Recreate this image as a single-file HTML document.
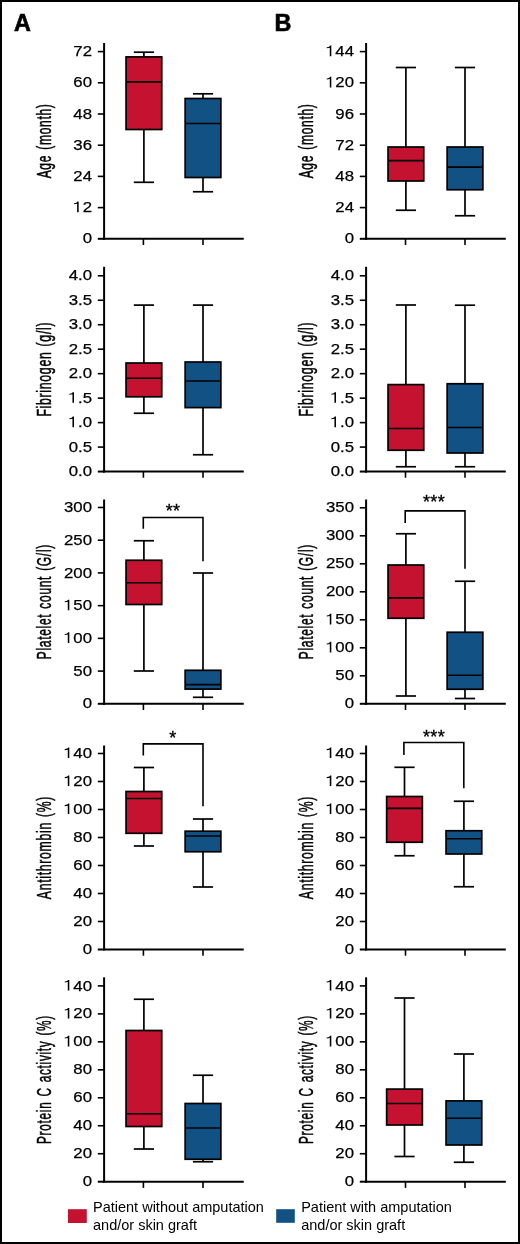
<!DOCTYPE html>
<html><head><meta charset="utf-8"><style>
html,body{margin:0;padding:0;background:#fff;}
body{width:520px;height:1244px;overflow:hidden;}
svg{display:block;font-family:"Liberation Sans",sans-serif;will-change:transform;}
</style></head><body>
<svg width="520" height="1244" viewBox="0 0 520 1244">
<rect x="0" y="0" width="520" height="1244" fill="#fff"/>
<rect x="1" y="1" width="518" height="1242" fill="none" stroke="#000" stroke-width="2"/>
<g stroke="#000" stroke-linecap="butt">
<line x1="104.10" y1="43.00" x2="104.10" y2="239.80" stroke-width="2.0"/>
<line x1="103.10" y1="238.80" x2="243.75" y2="238.80" stroke-width="2.0"/>
<line x1="97.80" y1="238.80" x2="104.10" y2="238.80" stroke-width="2.0"/>
<line x1="97.80" y1="207.60" x2="104.10" y2="207.60" stroke-width="1.6"/>
<line x1="97.80" y1="176.40" x2="104.10" y2="176.40" stroke-width="1.6"/>
<line x1="97.80" y1="145.20" x2="104.10" y2="145.20" stroke-width="1.6"/>
<line x1="97.80" y1="114.00" x2="104.10" y2="114.00" stroke-width="1.6"/>
<line x1="97.80" y1="82.80" x2="104.10" y2="82.80" stroke-width="1.6"/>
<line x1="97.80" y1="51.60" x2="104.10" y2="51.60" stroke-width="1.6"/>
<line x1="143.40" y1="238.80" x2="143.40" y2="245.00" stroke-width="1.6"/>
<line x1="203.00" y1="238.80" x2="203.00" y2="245.00" stroke-width="1.6"/>
</g>
<g font-size="15.4" text-anchor="end" fill="#000" stroke="#000" stroke-width="0.25">
<g transform="translate(92.00,243.40) scale(1.09,1)"><text>0</text></g>
<g transform="translate(92.00,212.20) scale(1.09,1)"><text> 2</text><polygon points="-12.23,-10.60 -12.23,0.00 -13.65,0.00 -13.65,-8.39 -16.44,-7.93 -16.44,-9.01 -14.82,-9.24 -13.82,-9.93 -13.36,-10.60" stroke="none"/></g>
<g transform="translate(92.00,181.00) scale(1.09,1)"><text>24</text></g>
<g transform="translate(92.00,149.80) scale(1.09,1)"><text>36</text></g>
<g transform="translate(92.00,118.60) scale(1.09,1)"><text>48</text></g>
<g transform="translate(92.00,87.40) scale(1.09,1)"><text>60</text></g>
<g transform="translate(92.00,56.20) scale(1.09,1)"><text>72</text></g>
</g>
<text transform="translate(50.90,140.90) rotate(-90) scale(0.6149,1)" text-anchor="middle" font-size="19.6" letter-spacing="1.138" word-spacing="1.626" fill="#000" stroke="#000" stroke-width="0.5">Age (month)</text>
<g stroke="#000">
<line x1="143.90" y1="52.20" x2="143.90" y2="56.90" stroke-width="1.7"/>
<line x1="143.90" y1="129.50" x2="143.90" y2="182.30" stroke-width="1.7"/>
<line x1="133.80" y1="52.20" x2="154.00" y2="52.20" stroke-width="1.7"/>
<line x1="133.80" y1="182.30" x2="154.00" y2="182.30" stroke-width="1.7"/>
<rect x="126.05" y="56.90" width="35.70" height="72.60" fill="#C41230" stroke-width="1.7"/>
<line x1="126.05" y1="81.85" x2="161.75" y2="81.85" stroke-width="1.7"/>
</g>
<g stroke="#000">
<line x1="203.00" y1="93.80" x2="203.00" y2="98.50" stroke-width="1.7"/>
<line x1="203.00" y1="177.50" x2="203.00" y2="191.75" stroke-width="1.7"/>
<line x1="192.90" y1="93.80" x2="213.10" y2="93.80" stroke-width="1.7"/>
<line x1="192.90" y1="191.75" x2="213.10" y2="191.75" stroke-width="1.7"/>
<rect x="185.15" y="98.50" width="35.70" height="79.00" fill="#125184" stroke-width="1.7"/>
<line x1="185.15" y1="123.50" x2="220.85" y2="123.50" stroke-width="1.7"/>
</g>
<g stroke="#000" stroke-linecap="butt">
<line x1="366.10" y1="43.00" x2="366.10" y2="239.80" stroke-width="2.0"/>
<line x1="365.10" y1="238.80" x2="505.80" y2="238.80" stroke-width="2.0"/>
<line x1="359.80" y1="238.80" x2="366.10" y2="238.80" stroke-width="2.0"/>
<line x1="359.80" y1="207.60" x2="366.10" y2="207.60" stroke-width="1.6"/>
<line x1="359.80" y1="176.40" x2="366.10" y2="176.40" stroke-width="1.6"/>
<line x1="359.80" y1="145.20" x2="366.10" y2="145.20" stroke-width="1.6"/>
<line x1="359.80" y1="114.00" x2="366.10" y2="114.00" stroke-width="1.6"/>
<line x1="359.80" y1="82.80" x2="366.10" y2="82.80" stroke-width="1.6"/>
<line x1="359.80" y1="51.60" x2="366.10" y2="51.60" stroke-width="1.6"/>
<line x1="405.50" y1="238.80" x2="405.50" y2="245.00" stroke-width="1.6"/>
<line x1="465.00" y1="238.80" x2="465.00" y2="245.00" stroke-width="1.6"/>
</g>
<g font-size="15.4" text-anchor="end" fill="#000" stroke="#000" stroke-width="0.25">
<g transform="translate(354.00,243.40) scale(1.09,1)"><text>0</text></g>
<g transform="translate(354.00,212.20) scale(1.09,1)"><text>24</text></g>
<g transform="translate(354.00,181.00) scale(1.09,1)"><text>48</text></g>
<g transform="translate(354.00,149.80) scale(1.09,1)"><text>72</text></g>
<g transform="translate(354.00,118.60) scale(1.09,1)"><text>96</text></g>
<g transform="translate(354.00,87.40) scale(1.09,1)"><text> 20</text><polygon points="-20.80,-10.60 -20.80,0.00 -22.22,0.00 -22.22,-8.39 -25.00,-7.93 -25.00,-9.01 -23.39,-9.24 -22.39,-9.93 -21.92,-10.60" stroke="none"/></g>
<g transform="translate(354.00,56.20) scale(1.09,1)"><text> 44</text><polygon points="-20.80,-10.60 -20.80,0.00 -22.22,0.00 -22.22,-8.39 -25.00,-7.93 -25.00,-9.01 -23.39,-9.24 -22.39,-9.93 -21.92,-10.60" stroke="none"/></g>
</g>
<text transform="translate(313.10,140.90) rotate(-90) scale(0.6149,1)" text-anchor="middle" font-size="19.6" letter-spacing="1.138" word-spacing="1.626" fill="#000" stroke="#000" stroke-width="0.5">Age (month)</text>
<g stroke="#000">
<line x1="405.90" y1="67.50" x2="405.90" y2="147.00" stroke-width="1.7"/>
<line x1="405.90" y1="181.00" x2="405.90" y2="210.25" stroke-width="1.7"/>
<line x1="395.80" y1="67.50" x2="416.00" y2="67.50" stroke-width="1.7"/>
<line x1="395.80" y1="210.25" x2="416.00" y2="210.25" stroke-width="1.7"/>
<rect x="388.05" y="147.00" width="35.70" height="34.00" fill="#C41230" stroke-width="1.7"/>
<line x1="388.05" y1="160.60" x2="423.75" y2="160.60" stroke-width="1.7"/>
</g>
<g stroke="#000">
<line x1="465.00" y1="67.50" x2="465.00" y2="147.00" stroke-width="1.7"/>
<line x1="465.00" y1="189.75" x2="465.00" y2="215.75" stroke-width="1.7"/>
<line x1="454.90" y1="67.50" x2="475.10" y2="67.50" stroke-width="1.7"/>
<line x1="454.90" y1="215.75" x2="475.10" y2="215.75" stroke-width="1.7"/>
<rect x="447.15" y="147.00" width="35.70" height="42.75" fill="#125184" stroke-width="1.7"/>
<line x1="447.15" y1="167.20" x2="482.85" y2="167.20" stroke-width="1.7"/>
</g>
<g stroke="#000" stroke-linecap="butt">
<line x1="104.10" y1="266.80" x2="104.10" y2="472.55" stroke-width="2.0"/>
<line x1="103.10" y1="471.55" x2="243.75" y2="471.55" stroke-width="2.0"/>
<line x1="97.80" y1="471.55" x2="104.10" y2="471.55" stroke-width="2.0"/>
<line x1="97.80" y1="447.08" x2="104.10" y2="447.08" stroke-width="1.6"/>
<line x1="97.80" y1="422.61" x2="104.10" y2="422.61" stroke-width="1.6"/>
<line x1="97.80" y1="398.14" x2="104.10" y2="398.14" stroke-width="1.6"/>
<line x1="97.80" y1="373.67" x2="104.10" y2="373.67" stroke-width="1.6"/>
<line x1="97.80" y1="349.20" x2="104.10" y2="349.20" stroke-width="1.6"/>
<line x1="97.80" y1="324.73" x2="104.10" y2="324.73" stroke-width="1.6"/>
<line x1="97.80" y1="300.26" x2="104.10" y2="300.26" stroke-width="1.6"/>
<line x1="97.80" y1="275.79" x2="104.10" y2="275.79" stroke-width="1.6"/>
<line x1="143.40" y1="471.55" x2="143.40" y2="477.75" stroke-width="1.6"/>
<line x1="203.00" y1="471.55" x2="203.00" y2="477.75" stroke-width="1.6"/>
</g>
<g font-size="15.4" text-anchor="end" fill="#000" stroke="#000" stroke-width="0.25">
<g transform="translate(92.00,476.15) scale(1.09,1)"><text>0.0</text></g>
<g transform="translate(92.00,451.68) scale(1.09,1)"><text>0.5</text></g>
<g transform="translate(92.00,427.21) scale(1.09,1)"><text> .0</text><polygon points="-16.51,-10.60 -16.51,0.00 -17.93,0.00 -17.93,-8.39 -20.72,-7.93 -20.72,-9.01 -19.10,-9.24 -18.10,-9.93 -17.64,-10.60" stroke="none"/></g>
<g transform="translate(92.00,402.74) scale(1.09,1)"><text> .5</text><polygon points="-16.51,-10.60 -16.51,0.00 -17.93,0.00 -17.93,-8.39 -20.72,-7.93 -20.72,-9.01 -19.10,-9.24 -18.10,-9.93 -17.64,-10.60" stroke="none"/></g>
<g transform="translate(92.00,378.27) scale(1.09,1)"><text>2.0</text></g>
<g transform="translate(92.00,353.80) scale(1.09,1)"><text>2.5</text></g>
<g transform="translate(92.00,329.33) scale(1.09,1)"><text>3.0</text></g>
<g transform="translate(92.00,304.86) scale(1.09,1)"><text>3.5</text></g>
<g transform="translate(92.00,280.39) scale(1.09,1)"><text>4.0</text></g>
</g>
<text transform="translate(50.90,369.18) rotate(-90) scale(0.6272,1)" text-anchor="middle" font-size="19.6" letter-spacing="1.116" word-spacing="1.594" fill="#000" stroke="#000" stroke-width="0.5">Fibrinogen (g/l)</text>
<g stroke="#000">
<line x1="143.90" y1="305.10" x2="143.90" y2="363.00" stroke-width="1.7"/>
<line x1="143.90" y1="396.80" x2="143.90" y2="413.25" stroke-width="1.7"/>
<line x1="133.80" y1="305.10" x2="154.00" y2="305.10" stroke-width="1.7"/>
<line x1="133.80" y1="413.25" x2="154.00" y2="413.25" stroke-width="1.7"/>
<rect x="126.05" y="363.00" width="35.70" height="33.80" fill="#C41230" stroke-width="1.7"/>
<line x1="126.05" y1="378.25" x2="161.75" y2="378.25" stroke-width="1.7"/>
</g>
<g stroke="#000">
<line x1="203.00" y1="305.10" x2="203.00" y2="362.00" stroke-width="1.7"/>
<line x1="203.00" y1="407.60" x2="203.00" y2="454.75" stroke-width="1.7"/>
<line x1="192.90" y1="305.10" x2="213.10" y2="305.10" stroke-width="1.7"/>
<line x1="192.90" y1="454.75" x2="213.10" y2="454.75" stroke-width="1.7"/>
<rect x="185.15" y="362.00" width="35.70" height="45.60" fill="#125184" stroke-width="1.7"/>
<line x1="185.15" y1="381.00" x2="220.85" y2="381.00" stroke-width="1.7"/>
</g>
<g stroke="#000" stroke-linecap="butt">
<line x1="366.10" y1="266.80" x2="366.10" y2="472.55" stroke-width="2.0"/>
<line x1="365.10" y1="471.55" x2="505.80" y2="471.55" stroke-width="2.0"/>
<line x1="359.80" y1="471.55" x2="366.10" y2="471.55" stroke-width="2.0"/>
<line x1="359.80" y1="447.08" x2="366.10" y2="447.08" stroke-width="1.6"/>
<line x1="359.80" y1="422.61" x2="366.10" y2="422.61" stroke-width="1.6"/>
<line x1="359.80" y1="398.14" x2="366.10" y2="398.14" stroke-width="1.6"/>
<line x1="359.80" y1="373.67" x2="366.10" y2="373.67" stroke-width="1.6"/>
<line x1="359.80" y1="349.20" x2="366.10" y2="349.20" stroke-width="1.6"/>
<line x1="359.80" y1="324.73" x2="366.10" y2="324.73" stroke-width="1.6"/>
<line x1="359.80" y1="300.26" x2="366.10" y2="300.26" stroke-width="1.6"/>
<line x1="359.80" y1="275.79" x2="366.10" y2="275.79" stroke-width="1.6"/>
<line x1="405.50" y1="471.55" x2="405.50" y2="477.75" stroke-width="1.6"/>
<line x1="465.00" y1="471.55" x2="465.00" y2="477.75" stroke-width="1.6"/>
</g>
<g font-size="15.4" text-anchor="end" fill="#000" stroke="#000" stroke-width="0.25">
<g transform="translate(354.00,476.15) scale(1.09,1)"><text>0.0</text></g>
<g transform="translate(354.00,451.68) scale(1.09,1)"><text>0.5</text></g>
<g transform="translate(354.00,427.21) scale(1.09,1)"><text> .0</text><polygon points="-16.51,-10.60 -16.51,0.00 -17.93,0.00 -17.93,-8.39 -20.72,-7.93 -20.72,-9.01 -19.10,-9.24 -18.10,-9.93 -17.64,-10.60" stroke="none"/></g>
<g transform="translate(354.00,402.74) scale(1.09,1)"><text> .5</text><polygon points="-16.51,-10.60 -16.51,0.00 -17.93,0.00 -17.93,-8.39 -20.72,-7.93 -20.72,-9.01 -19.10,-9.24 -18.10,-9.93 -17.64,-10.60" stroke="none"/></g>
<g transform="translate(354.00,378.27) scale(1.09,1)"><text>2.0</text></g>
<g transform="translate(354.00,353.80) scale(1.09,1)"><text>2.5</text></g>
<g transform="translate(354.00,329.33) scale(1.09,1)"><text>3.0</text></g>
<g transform="translate(354.00,304.86) scale(1.09,1)"><text>3.5</text></g>
<g transform="translate(354.00,280.39) scale(1.09,1)"><text>4.0</text></g>
</g>
<text transform="translate(313.10,369.18) rotate(-90) scale(0.6272,1)" text-anchor="middle" font-size="19.6" letter-spacing="1.116" word-spacing="1.594" fill="#000" stroke="#000" stroke-width="0.5">Fibrinogen (g/l)</text>
<g stroke="#000">
<line x1="405.90" y1="305.00" x2="405.90" y2="384.60" stroke-width="1.7"/>
<line x1="405.90" y1="450.25" x2="405.90" y2="466.75" stroke-width="1.7"/>
<line x1="395.80" y1="305.00" x2="416.00" y2="305.00" stroke-width="1.7"/>
<line x1="395.80" y1="466.75" x2="416.00" y2="466.75" stroke-width="1.7"/>
<rect x="388.05" y="384.60" width="35.70" height="65.65" fill="#C41230" stroke-width="1.7"/>
<line x1="388.05" y1="428.50" x2="423.75" y2="428.50" stroke-width="1.7"/>
</g>
<g stroke="#000">
<line x1="465.00" y1="305.20" x2="465.00" y2="383.75" stroke-width="1.7"/>
<line x1="465.00" y1="453.00" x2="465.00" y2="466.75" stroke-width="1.7"/>
<line x1="454.90" y1="305.20" x2="475.10" y2="305.20" stroke-width="1.7"/>
<line x1="454.90" y1="466.75" x2="475.10" y2="466.75" stroke-width="1.7"/>
<rect x="447.15" y="383.75" width="35.70" height="69.25" fill="#125184" stroke-width="1.7"/>
<line x1="447.15" y1="427.50" x2="482.85" y2="427.50" stroke-width="1.7"/>
</g>
<g stroke="#000" stroke-linecap="butt">
<line x1="104.10" y1="499.50" x2="104.10" y2="704.80" stroke-width="2.0"/>
<line x1="103.10" y1="703.80" x2="243.75" y2="703.80" stroke-width="2.0"/>
<line x1="97.80" y1="703.80" x2="104.10" y2="703.80" stroke-width="2.0"/>
<line x1="97.80" y1="671.08" x2="104.10" y2="671.08" stroke-width="1.6"/>
<line x1="97.80" y1="638.36" x2="104.10" y2="638.36" stroke-width="1.6"/>
<line x1="97.80" y1="605.64" x2="104.10" y2="605.64" stroke-width="1.6"/>
<line x1="97.80" y1="572.92" x2="104.10" y2="572.92" stroke-width="1.6"/>
<line x1="97.80" y1="540.20" x2="104.10" y2="540.20" stroke-width="1.6"/>
<line x1="97.80" y1="507.48" x2="104.10" y2="507.48" stroke-width="1.6"/>
<line x1="143.40" y1="703.80" x2="143.40" y2="710.00" stroke-width="1.6"/>
<line x1="203.00" y1="703.80" x2="203.00" y2="710.00" stroke-width="1.6"/>
</g>
<g font-size="15.4" text-anchor="end" fill="#000" stroke="#000" stroke-width="0.25">
<g transform="translate(92.00,708.40) scale(1.09,1)"><text>0</text></g>
<g transform="translate(92.00,675.68) scale(1.09,1)"><text>50</text></g>
<g transform="translate(92.00,642.96) scale(1.09,1)"><text> 00</text><polygon points="-20.80,-10.60 -20.80,0.00 -22.22,0.00 -22.22,-8.39 -25.00,-7.93 -25.00,-9.01 -23.39,-9.24 -22.39,-9.93 -21.92,-10.60" stroke="none"/></g>
<g transform="translate(92.00,610.24) scale(1.09,1)"><text> 50</text><polygon points="-20.80,-10.60 -20.80,0.00 -22.22,0.00 -22.22,-8.39 -25.00,-7.93 -25.00,-9.01 -23.39,-9.24 -22.39,-9.93 -21.92,-10.60" stroke="none"/></g>
<g transform="translate(92.00,577.52) scale(1.09,1)"><text>200</text></g>
<g transform="translate(92.00,544.80) scale(1.09,1)"><text>250</text></g>
<g transform="translate(92.00,512.08) scale(1.09,1)"><text>300</text></g>
</g>
<text transform="translate(50.90,601.65) rotate(-90) scale(0.6117,1)" text-anchor="middle" font-size="19.6" letter-spacing="1.144" word-spacing="1.635" fill="#000" stroke="#000" stroke-width="0.5">Platelet count (G/l)</text>
<g stroke="#000">
<line x1="143.90" y1="540.75" x2="143.90" y2="560.25" stroke-width="1.7"/>
<line x1="143.90" y1="604.50" x2="143.90" y2="671.00" stroke-width="1.7"/>
<line x1="133.80" y1="540.75" x2="154.00" y2="540.75" stroke-width="1.7"/>
<line x1="133.80" y1="671.00" x2="154.00" y2="671.00" stroke-width="1.7"/>
<rect x="126.05" y="560.25" width="35.70" height="44.25" fill="#C41230" stroke-width="1.7"/>
<line x1="126.05" y1="582.75" x2="161.75" y2="582.75" stroke-width="1.7"/>
</g>
<g stroke="#000">
<line x1="203.00" y1="573.00" x2="203.00" y2="670.30" stroke-width="1.7"/>
<line x1="203.00" y1="689.10" x2="203.00" y2="697.30" stroke-width="1.7"/>
<line x1="192.90" y1="573.00" x2="213.10" y2="573.00" stroke-width="1.7"/>
<line x1="192.90" y1="697.30" x2="213.10" y2="697.30" stroke-width="1.7"/>
<rect x="185.15" y="670.30" width="35.70" height="18.80" fill="#125184" stroke-width="1.7"/>
<line x1="185.15" y1="684.60" x2="220.85" y2="684.60" stroke-width="1.7"/>
</g>
<path d="M143.30,528.75 V517.50 H203.00 V561.25" fill="none" stroke="#000" stroke-width="1.6"/>
<text x="173.10" y="516.90" text-anchor="middle" font-size="18" letter-spacing="0.4" stroke="#000" stroke-width="0.35">**</text>
<g stroke="#000" stroke-linecap="butt">
<line x1="366.10" y1="499.50" x2="366.10" y2="704.80" stroke-width="2.0"/>
<line x1="365.10" y1="703.80" x2="505.80" y2="703.80" stroke-width="2.0"/>
<line x1="359.80" y1="703.80" x2="366.10" y2="703.80" stroke-width="2.0"/>
<line x1="359.80" y1="675.80" x2="366.10" y2="675.80" stroke-width="1.6"/>
<line x1="359.80" y1="647.80" x2="366.10" y2="647.80" stroke-width="1.6"/>
<line x1="359.80" y1="619.80" x2="366.10" y2="619.80" stroke-width="1.6"/>
<line x1="359.80" y1="591.80" x2="366.10" y2="591.80" stroke-width="1.6"/>
<line x1="359.80" y1="563.80" x2="366.10" y2="563.80" stroke-width="1.6"/>
<line x1="359.80" y1="535.80" x2="366.10" y2="535.80" stroke-width="1.6"/>
<line x1="359.80" y1="507.80" x2="366.10" y2="507.80" stroke-width="1.6"/>
<line x1="405.50" y1="703.80" x2="405.50" y2="710.00" stroke-width="1.6"/>
<line x1="465.00" y1="703.80" x2="465.00" y2="710.00" stroke-width="1.6"/>
</g>
<g font-size="15.4" text-anchor="end" fill="#000" stroke="#000" stroke-width="0.25">
<g transform="translate(354.00,708.40) scale(1.09,1)"><text>0</text></g>
<g transform="translate(354.00,680.40) scale(1.09,1)"><text>50</text></g>
<g transform="translate(354.00,652.40) scale(1.09,1)"><text> 00</text><polygon points="-20.80,-10.60 -20.80,0.00 -22.22,0.00 -22.22,-8.39 -25.00,-7.93 -25.00,-9.01 -23.39,-9.24 -22.39,-9.93 -21.92,-10.60" stroke="none"/></g>
<g transform="translate(354.00,624.40) scale(1.09,1)"><text> 50</text><polygon points="-20.80,-10.60 -20.80,0.00 -22.22,0.00 -22.22,-8.39 -25.00,-7.93 -25.00,-9.01 -23.39,-9.24 -22.39,-9.93 -21.92,-10.60" stroke="none"/></g>
<g transform="translate(354.00,596.40) scale(1.09,1)"><text>200</text></g>
<g transform="translate(354.00,568.40) scale(1.09,1)"><text>250</text></g>
<g transform="translate(354.00,540.40) scale(1.09,1)"><text>300</text></g>
<g transform="translate(354.00,512.40) scale(1.09,1)"><text>350</text></g>
</g>
<text transform="translate(313.10,601.65) rotate(-90) scale(0.6117,1)" text-anchor="middle" font-size="19.6" letter-spacing="1.144" word-spacing="1.635" fill="#000" stroke="#000" stroke-width="0.5">Platelet count (G/l)</text>
<g stroke="#000">
<line x1="405.90" y1="533.75" x2="405.90" y2="565.00" stroke-width="1.7"/>
<line x1="405.90" y1="618.25" x2="405.90" y2="696.00" stroke-width="1.7"/>
<line x1="395.80" y1="533.75" x2="416.00" y2="533.75" stroke-width="1.7"/>
<line x1="395.80" y1="696.00" x2="416.00" y2="696.00" stroke-width="1.7"/>
<rect x="388.05" y="565.00" width="35.70" height="53.25" fill="#C41230" stroke-width="1.7"/>
<line x1="388.05" y1="597.90" x2="423.75" y2="597.90" stroke-width="1.7"/>
</g>
<g stroke="#000">
<line x1="465.00" y1="581.25" x2="465.00" y2="632.25" stroke-width="1.7"/>
<line x1="465.00" y1="689.25" x2="465.00" y2="698.50" stroke-width="1.7"/>
<line x1="454.90" y1="581.25" x2="475.10" y2="581.25" stroke-width="1.7"/>
<line x1="454.90" y1="698.50" x2="475.10" y2="698.50" stroke-width="1.7"/>
<rect x="447.15" y="632.25" width="35.70" height="57.00" fill="#125184" stroke-width="1.7"/>
<line x1="447.15" y1="675.25" x2="482.85" y2="675.25" stroke-width="1.7"/>
</g>
<path d="M405.20,523.00 V510.90 H465.00 V568.75" fill="none" stroke="#000" stroke-width="1.6"/>
<text x="434.00" y="507.70" text-anchor="middle" font-size="18" letter-spacing="0.4" stroke="#000" stroke-width="0.35">***</text>
<g stroke="#000" stroke-linecap="butt">
<line x1="104.10" y1="745.50" x2="104.10" y2="950.50" stroke-width="2.0"/>
<line x1="103.10" y1="949.50" x2="243.75" y2="949.50" stroke-width="2.0"/>
<line x1="97.80" y1="949.50" x2="104.10" y2="949.50" stroke-width="2.0"/>
<line x1="97.80" y1="921.50" x2="104.10" y2="921.50" stroke-width="1.6"/>
<line x1="97.80" y1="893.50" x2="104.10" y2="893.50" stroke-width="1.6"/>
<line x1="97.80" y1="865.50" x2="104.10" y2="865.50" stroke-width="1.6"/>
<line x1="97.80" y1="837.50" x2="104.10" y2="837.50" stroke-width="1.6"/>
<line x1="97.80" y1="809.50" x2="104.10" y2="809.50" stroke-width="1.6"/>
<line x1="97.80" y1="781.50" x2="104.10" y2="781.50" stroke-width="1.6"/>
<line x1="97.80" y1="753.50" x2="104.10" y2="753.50" stroke-width="1.6"/>
<line x1="143.40" y1="949.50" x2="143.40" y2="955.70" stroke-width="1.6"/>
<line x1="203.00" y1="949.50" x2="203.00" y2="955.70" stroke-width="1.6"/>
</g>
<g font-size="15.4" text-anchor="end" fill="#000" stroke="#000" stroke-width="0.25">
<g transform="translate(92.00,954.10) scale(1.09,1)"><text>0</text></g>
<g transform="translate(92.00,926.10) scale(1.09,1)"><text>20</text></g>
<g transform="translate(92.00,898.10) scale(1.09,1)"><text>40</text></g>
<g transform="translate(92.00,870.10) scale(1.09,1)"><text>60</text></g>
<g transform="translate(92.00,842.10) scale(1.09,1)"><text>80</text></g>
<g transform="translate(92.00,814.10) scale(1.09,1)"><text> 00</text><polygon points="-20.80,-10.60 -20.80,0.00 -22.22,0.00 -22.22,-8.39 -25.00,-7.93 -25.00,-9.01 -23.39,-9.24 -22.39,-9.93 -21.92,-10.60" stroke="none"/></g>
<g transform="translate(92.00,786.10) scale(1.09,1)"><text> 20</text><polygon points="-20.80,-10.60 -20.80,0.00 -22.22,0.00 -22.22,-8.39 -25.00,-7.93 -25.00,-9.01 -23.39,-9.24 -22.39,-9.93 -21.92,-10.60" stroke="none"/></g>
<g transform="translate(92.00,758.10) scale(1.09,1)"><text> 40</text><polygon points="-20.80,-10.60 -20.80,0.00 -22.22,0.00 -22.22,-8.39 -25.00,-7.93 -25.00,-9.01 -23.39,-9.24 -22.39,-9.93 -21.92,-10.60" stroke="none"/></g>
</g>
<text transform="translate(50.90,847.50) rotate(-90) scale(0.6243,1)" text-anchor="middle" font-size="19.6" letter-spacing="1.121" word-spacing="1.602" fill="#000" stroke="#000" stroke-width="0.5">Antithrombin (%)</text>
<g stroke="#000">
<line x1="143.90" y1="767.50" x2="143.90" y2="791.50" stroke-width="1.7"/>
<line x1="143.90" y1="833.30" x2="143.90" y2="846.00" stroke-width="1.7"/>
<line x1="133.80" y1="767.50" x2="154.00" y2="767.50" stroke-width="1.7"/>
<line x1="133.80" y1="846.00" x2="154.00" y2="846.00" stroke-width="1.7"/>
<rect x="126.05" y="791.50" width="35.70" height="41.80" fill="#C41230" stroke-width="1.7"/>
<line x1="126.05" y1="798.50" x2="161.75" y2="798.50" stroke-width="1.7"/>
</g>
<g stroke="#000">
<line x1="203.00" y1="819.00" x2="203.00" y2="831.20" stroke-width="1.7"/>
<line x1="203.00" y1="851.75" x2="203.00" y2="887.00" stroke-width="1.7"/>
<line x1="192.90" y1="819.00" x2="213.10" y2="819.00" stroke-width="1.7"/>
<line x1="192.90" y1="887.00" x2="213.10" y2="887.00" stroke-width="1.7"/>
<rect x="185.15" y="831.20" width="35.70" height="20.55" fill="#125184" stroke-width="1.7"/>
<line x1="185.15" y1="836.00" x2="220.85" y2="836.00" stroke-width="1.7"/>
</g>
<path d="M143.30,755.50 V743.90 H203.00 V806.25" fill="none" stroke="#000" stroke-width="1.6"/>
<text x="173.00" y="743.60" text-anchor="middle" font-size="18" letter-spacing="0.4" stroke="#000" stroke-width="0.35">*</text>
<g stroke="#000" stroke-linecap="butt">
<line x1="366.10" y1="745.50" x2="366.10" y2="950.50" stroke-width="2.0"/>
<line x1="365.10" y1="949.50" x2="505.80" y2="949.50" stroke-width="2.0"/>
<line x1="359.80" y1="949.50" x2="366.10" y2="949.50" stroke-width="2.0"/>
<line x1="359.80" y1="921.50" x2="366.10" y2="921.50" stroke-width="1.6"/>
<line x1="359.80" y1="893.50" x2="366.10" y2="893.50" stroke-width="1.6"/>
<line x1="359.80" y1="865.50" x2="366.10" y2="865.50" stroke-width="1.6"/>
<line x1="359.80" y1="837.50" x2="366.10" y2="837.50" stroke-width="1.6"/>
<line x1="359.80" y1="809.50" x2="366.10" y2="809.50" stroke-width="1.6"/>
<line x1="359.80" y1="781.50" x2="366.10" y2="781.50" stroke-width="1.6"/>
<line x1="359.80" y1="753.50" x2="366.10" y2="753.50" stroke-width="1.6"/>
<line x1="405.50" y1="949.50" x2="405.50" y2="955.70" stroke-width="1.6"/>
<line x1="465.00" y1="949.50" x2="465.00" y2="955.70" stroke-width="1.6"/>
</g>
<g font-size="15.4" text-anchor="end" fill="#000" stroke="#000" stroke-width="0.25">
<g transform="translate(354.00,954.10) scale(1.09,1)"><text>0</text></g>
<g transform="translate(354.00,926.10) scale(1.09,1)"><text>20</text></g>
<g transform="translate(354.00,898.10) scale(1.09,1)"><text>40</text></g>
<g transform="translate(354.00,870.10) scale(1.09,1)"><text>60</text></g>
<g transform="translate(354.00,842.10) scale(1.09,1)"><text>80</text></g>
<g transform="translate(354.00,814.10) scale(1.09,1)"><text> 00</text><polygon points="-20.80,-10.60 -20.80,0.00 -22.22,0.00 -22.22,-8.39 -25.00,-7.93 -25.00,-9.01 -23.39,-9.24 -22.39,-9.93 -21.92,-10.60" stroke="none"/></g>
<g transform="translate(354.00,786.10) scale(1.09,1)"><text> 20</text><polygon points="-20.80,-10.60 -20.80,0.00 -22.22,0.00 -22.22,-8.39 -25.00,-7.93 -25.00,-9.01 -23.39,-9.24 -22.39,-9.93 -21.92,-10.60" stroke="none"/></g>
<g transform="translate(354.00,758.10) scale(1.09,1)"><text> 40</text><polygon points="-20.80,-10.60 -20.80,0.00 -22.22,0.00 -22.22,-8.39 -25.00,-7.93 -25.00,-9.01 -23.39,-9.24 -22.39,-9.93 -21.92,-10.60" stroke="none"/></g>
</g>
<text transform="translate(313.10,847.50) rotate(-90) scale(0.6243,1)" text-anchor="middle" font-size="19.6" letter-spacing="1.121" word-spacing="1.602" fill="#000" stroke="#000" stroke-width="0.5">Antithrombin (%)</text>
<g stroke="#000">
<line x1="404.50" y1="767.30" x2="404.50" y2="796.50" stroke-width="1.7"/>
<line x1="404.50" y1="842.25" x2="404.50" y2="855.75" stroke-width="1.7"/>
<line x1="394.40" y1="767.30" x2="414.60" y2="767.30" stroke-width="1.7"/>
<line x1="394.40" y1="855.75" x2="414.60" y2="855.75" stroke-width="1.7"/>
<rect x="386.65" y="796.50" width="35.70" height="45.75" fill="#C41230" stroke-width="1.7"/>
<line x1="386.65" y1="808.30" x2="422.35" y2="808.30" stroke-width="1.7"/>
</g>
<g stroke="#000">
<line x1="463.90" y1="801.25" x2="463.90" y2="830.75" stroke-width="1.7"/>
<line x1="463.90" y1="854.00" x2="463.90" y2="886.75" stroke-width="1.7"/>
<line x1="453.80" y1="801.25" x2="474.00" y2="801.25" stroke-width="1.7"/>
<line x1="453.80" y1="886.75" x2="474.00" y2="886.75" stroke-width="1.7"/>
<rect x="446.05" y="830.75" width="35.70" height="23.25" fill="#125184" stroke-width="1.7"/>
<line x1="446.05" y1="838.75" x2="481.75" y2="838.75" stroke-width="1.7"/>
</g>
<path d="M403.90,755.00 V742.50 H463.80 V788.25" fill="none" stroke="#000" stroke-width="1.6"/>
<text x="434.00" y="742.90" text-anchor="middle" font-size="18" letter-spacing="0.4" stroke="#000" stroke-width="0.35">***</text>
<g stroke="#000" stroke-linecap="butt">
<line x1="104.10" y1="977.30" x2="104.10" y2="1182.70" stroke-width="2.0"/>
<line x1="103.10" y1="1181.70" x2="243.75" y2="1181.70" stroke-width="2.0"/>
<line x1="97.80" y1="1181.70" x2="104.10" y2="1181.70" stroke-width="2.0"/>
<line x1="97.80" y1="1153.73" x2="104.10" y2="1153.73" stroke-width="1.6"/>
<line x1="97.80" y1="1125.76" x2="104.10" y2="1125.76" stroke-width="1.6"/>
<line x1="97.80" y1="1097.79" x2="104.10" y2="1097.79" stroke-width="1.6"/>
<line x1="97.80" y1="1069.82" x2="104.10" y2="1069.82" stroke-width="1.6"/>
<line x1="97.80" y1="1041.85" x2="104.10" y2="1041.85" stroke-width="1.6"/>
<line x1="97.80" y1="1013.88" x2="104.10" y2="1013.88" stroke-width="1.6"/>
<line x1="97.80" y1="985.91" x2="104.10" y2="985.91" stroke-width="1.6"/>
<line x1="143.40" y1="1181.70" x2="143.40" y2="1187.90" stroke-width="1.6"/>
<line x1="203.00" y1="1181.70" x2="203.00" y2="1187.90" stroke-width="1.6"/>
</g>
<g font-size="15.4" text-anchor="end" fill="#000" stroke="#000" stroke-width="0.25">
<g transform="translate(92.00,1186.30) scale(1.09,1)"><text>0</text></g>
<g transform="translate(92.00,1158.33) scale(1.09,1)"><text>20</text></g>
<g transform="translate(92.00,1130.36) scale(1.09,1)"><text>40</text></g>
<g transform="translate(92.00,1102.39) scale(1.09,1)"><text>60</text></g>
<g transform="translate(92.00,1074.42) scale(1.09,1)"><text>80</text></g>
<g transform="translate(92.00,1046.45) scale(1.09,1)"><text> 00</text><polygon points="-20.80,-10.60 -20.80,0.00 -22.22,0.00 -22.22,-8.39 -25.00,-7.93 -25.00,-9.01 -23.39,-9.24 -22.39,-9.93 -21.92,-10.60" stroke="none"/></g>
<g transform="translate(92.00,1018.48) scale(1.09,1)"><text> 20</text><polygon points="-20.80,-10.60 -20.80,0.00 -22.22,0.00 -22.22,-8.39 -25.00,-7.93 -25.00,-9.01 -23.39,-9.24 -22.39,-9.93 -21.92,-10.60" stroke="none"/></g>
<g transform="translate(92.00,990.51) scale(1.09,1)"><text> 40</text><polygon points="-20.80,-10.60 -20.80,0.00 -22.22,0.00 -22.22,-8.39 -25.00,-7.93 -25.00,-9.01 -23.39,-9.24 -22.39,-9.93 -21.92,-10.60" stroke="none"/></g>
</g>
<text transform="translate(50.90,1079.50) rotate(-90) scale(0.6048,1)" text-anchor="middle" font-size="19.6" letter-spacing="1.157" word-spacing="1.653" fill="#000" stroke="#000" stroke-width="0.5">Protein C activity (%)</text>
<g stroke="#000">
<line x1="143.90" y1="999.25" x2="143.90" y2="1030.50" stroke-width="1.7"/>
<line x1="143.90" y1="1126.50" x2="143.90" y2="1149.00" stroke-width="1.7"/>
<line x1="133.80" y1="999.25" x2="154.00" y2="999.25" stroke-width="1.7"/>
<line x1="133.80" y1="1149.00" x2="154.00" y2="1149.00" stroke-width="1.7"/>
<rect x="126.05" y="1030.50" width="35.70" height="96.00" fill="#C41230" stroke-width="1.7"/>
<line x1="126.05" y1="1113.75" x2="161.75" y2="1113.75" stroke-width="1.7"/>
</g>
<g stroke="#000">
<line x1="203.00" y1="1075.25" x2="203.00" y2="1103.50" stroke-width="1.7"/>
<line x1="203.00" y1="1159.25" x2="203.00" y2="1161.75" stroke-width="1.7"/>
<line x1="192.90" y1="1075.25" x2="213.10" y2="1075.25" stroke-width="1.7"/>
<line x1="192.90" y1="1161.75" x2="213.10" y2="1161.75" stroke-width="1.7"/>
<rect x="185.15" y="1103.50" width="35.70" height="55.75" fill="#125184" stroke-width="1.7"/>
<line x1="185.15" y1="1128.00" x2="220.85" y2="1128.00" stroke-width="1.7"/>
</g>
<g stroke="#000" stroke-linecap="butt">
<line x1="366.10" y1="977.30" x2="366.10" y2="1182.70" stroke-width="2.0"/>
<line x1="365.10" y1="1181.70" x2="505.80" y2="1181.70" stroke-width="2.0"/>
<line x1="359.80" y1="1181.70" x2="366.10" y2="1181.70" stroke-width="2.0"/>
<line x1="359.80" y1="1153.73" x2="366.10" y2="1153.73" stroke-width="1.6"/>
<line x1="359.80" y1="1125.76" x2="366.10" y2="1125.76" stroke-width="1.6"/>
<line x1="359.80" y1="1097.79" x2="366.10" y2="1097.79" stroke-width="1.6"/>
<line x1="359.80" y1="1069.82" x2="366.10" y2="1069.82" stroke-width="1.6"/>
<line x1="359.80" y1="1041.85" x2="366.10" y2="1041.85" stroke-width="1.6"/>
<line x1="359.80" y1="1013.88" x2="366.10" y2="1013.88" stroke-width="1.6"/>
<line x1="359.80" y1="985.91" x2="366.10" y2="985.91" stroke-width="1.6"/>
<line x1="405.50" y1="1181.70" x2="405.50" y2="1187.90" stroke-width="1.6"/>
<line x1="465.00" y1="1181.70" x2="465.00" y2="1187.90" stroke-width="1.6"/>
</g>
<g font-size="15.4" text-anchor="end" fill="#000" stroke="#000" stroke-width="0.25">
<g transform="translate(354.00,1186.30) scale(1.09,1)"><text>0</text></g>
<g transform="translate(354.00,1158.33) scale(1.09,1)"><text>20</text></g>
<g transform="translate(354.00,1130.36) scale(1.09,1)"><text>40</text></g>
<g transform="translate(354.00,1102.39) scale(1.09,1)"><text>60</text></g>
<g transform="translate(354.00,1074.42) scale(1.09,1)"><text>80</text></g>
<g transform="translate(354.00,1046.45) scale(1.09,1)"><text> 00</text><polygon points="-20.80,-10.60 -20.80,0.00 -22.22,0.00 -22.22,-8.39 -25.00,-7.93 -25.00,-9.01 -23.39,-9.24 -22.39,-9.93 -21.92,-10.60" stroke="none"/></g>
<g transform="translate(354.00,1018.48) scale(1.09,1)"><text> 20</text><polygon points="-20.80,-10.60 -20.80,0.00 -22.22,0.00 -22.22,-8.39 -25.00,-7.93 -25.00,-9.01 -23.39,-9.24 -22.39,-9.93 -21.92,-10.60" stroke="none"/></g>
<g transform="translate(354.00,990.51) scale(1.09,1)"><text> 40</text><polygon points="-20.80,-10.60 -20.80,0.00 -22.22,0.00 -22.22,-8.39 -25.00,-7.93 -25.00,-9.01 -23.39,-9.24 -22.39,-9.93 -21.92,-10.60" stroke="none"/></g>
</g>
<text transform="translate(313.10,1079.50) rotate(-90) scale(0.6048,1)" text-anchor="middle" font-size="19.6" letter-spacing="1.157" word-spacing="1.653" fill="#000" stroke="#000" stroke-width="0.5">Protein C activity (%)</text>
<g stroke="#000">
<line x1="404.50" y1="998.00" x2="404.50" y2="1089.10" stroke-width="1.7"/>
<line x1="404.50" y1="1125.00" x2="404.50" y2="1156.50" stroke-width="1.7"/>
<line x1="394.40" y1="998.00" x2="414.60" y2="998.00" stroke-width="1.7"/>
<line x1="394.40" y1="1156.50" x2="414.60" y2="1156.50" stroke-width="1.7"/>
<rect x="386.65" y="1089.10" width="35.70" height="35.90" fill="#C41230" stroke-width="1.7"/>
<line x1="386.65" y1="1103.50" x2="422.35" y2="1103.50" stroke-width="1.7"/>
</g>
<g stroke="#000">
<line x1="463.90" y1="1054.00" x2="463.90" y2="1100.90" stroke-width="1.7"/>
<line x1="463.90" y1="1145.00" x2="463.90" y2="1162.25" stroke-width="1.7"/>
<line x1="453.80" y1="1054.00" x2="474.00" y2="1054.00" stroke-width="1.7"/>
<line x1="453.80" y1="1162.25" x2="474.00" y2="1162.25" stroke-width="1.7"/>
<rect x="446.05" y="1100.90" width="35.70" height="44.10" fill="#125184" stroke-width="1.7"/>
<line x1="446.05" y1="1118.25" x2="481.75" y2="1118.25" stroke-width="1.7"/>
</g>
<text x="13.9" y="30.9" font-size="23.4" font-weight="bold" stroke="#000" stroke-width="0.6">A</text>
<text x="274.5" y="30.9" font-size="23.4" font-weight="bold" stroke="#000" stroke-width="0.6">B</text>
<rect x="68" y="1209.2" width="18.8" height="13.8" fill="#C41230"/>
<rect x="276.2" y="1209.2" width="18.6" height="13.6" fill="#125184"/>
<g font-size="14.5" fill="#000">
<text x="93" y="1211.8">Patient without amputation</text>
<text x="93" y="1229.6">and/or skin graft</text>
<text x="301.2" y="1211.8">Patient with amputation</text>
<text x="301.2" y="1229.6">and/or skin graft</text>
</g>
</svg>
</body></html>
